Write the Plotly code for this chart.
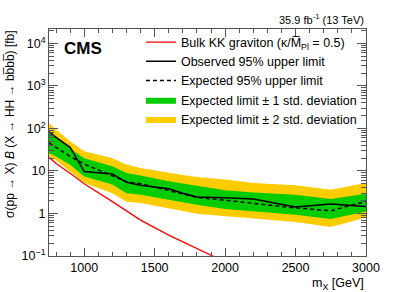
import plotly.graph_objects as go

# ---- data ----
mass = [750, 800, 900, 1000, 1200, 1300, 1400, 1600, 1700, 1800, 2000, 2200, 2500, 2750, 3000]
observed = [85, 62, 36, 9.7, 8.5, 5.4, 4.6, 3.8, 3.0, 2.45, 2.35, 2.2, 1.42, 1.67, 1.47]
expected = [46, 36, 22, 14.5, 7.9, 5.6, 5.0, 3.5, 2.9, 2.4, 2.05, 1.75, 1.35, 1.16, 1.92]
minus2 = [22, 18, 9.7, 5.3, 3.0, 1.9, 1.76, 1.34, 1.15, 0.98, 0.85, 0.75, 0.63, 0.48, 0.80]
minus1 = [26, 22, 14, 7.4, 4.8, 3.0, 2.77, 2.1, 1.85, 1.6, 1.27, 1.11, 0.93, 0.74, 1.11]
plus1 = [85, 65, 34, 20, 12.9, 9.0, 7.8, 5.7, 5.1, 4.5, 3.5, 3.1, 2.77, 2.19, 2.9]
plus2 = [134, 93, 50, 29, 20, 14.2, 11.8, 9.0, 8.0, 7.2, 6.3, 5.2, 4.6, 3.6, 5.2]

grav_mass = [750, 800, 900, 1000, 1200, 1400, 1600, 1800, 2000, 2200]
grav_xsec = [21, 15, 8.8, 5.0, 1.9, 0.70, 0.31, 0.15, 0.07, 0.035]

ytick_vals = [0.1, 1, 10, 100, 1000, 10000]
ytick_text = ["10<sup>\u22121</sup>", "1", "10", "10<sup>2</sup>", "10<sup>3</sup>", "10<sup>4</sup>"]
xtick_vals = [1000, 1500, 2000, 2500, 3000]

FONT = "Liberation Sans, Arial, Helvetica, sans-serif"
AX = "#555555"

fig = go.Figure()

# bands (closed polygons)
fig.add_trace(go.Scatter(
    x=mass + mass[::-1], y=plus2 + minus2[::-1], fill="toself",
    fillcolor="#FFCC00", line=dict(width=0), mode="lines",
    name="Expected limit \u00b1 2 std. deviation", legendrank=5, hoverinfo="skip"))
fig.add_trace(go.Scatter(
    x=mass + mass[::-1], y=plus1 + minus1[::-1], fill="toself",
    fillcolor="#00CC00", line=dict(width=0), mode="lines",
    name="Expected limit \u00b1 1 std. deviation", legendrank=4, hoverinfo="skip"))
fig.add_trace(go.Scatter(
    x=mass, y=expected, mode="lines", line=dict(color="black", width=1.5, dash="4px,3px"),
    name="Expected 95% upper limit", legendrank=3))
fig.add_trace(go.Scatter(
    x=mass, y=observed, mode="lines", line=dict(color="black", width=1.5),
    name="Observed 95% upper limit", legendrank=2))
fig.add_trace(go.Scatter(
    x=grav_mass, y=grav_xsec, mode="lines", line=dict(color="#FF0000", width=1.3),
    name="Bulk KK graviton (\u03ba/M\u0305<sub>Pl</sub> = 0.5)", legendrank=1))

fig.update_layout(
    width=407, height=292,
    margin=dict(l=49, r=41, t=29, b=36),
    paper_bgcolor="white", plot_bgcolor="white",
    font=dict(family=FONT, size=12, color="black"),
    showlegend=True,
    legend=dict(x=0.29, y=1.007, xanchor="left", yanchor="top",
                bgcolor="rgba(0,0,0,0)", font=dict(size=12.5, family=FONT),
                itemwidth=30, tracegroupgap=0, traceorder="normal"),
)

fig.update_xaxes(
    range=[750, 3000], showgrid=False, zeroline=False,
    showline=True, linecolor=AX, linewidth=1, mirror="allticks",
    ticks="inside", ticklen=8, tickcolor=AX, tickvals=xtick_vals,
    tickfont=dict(size=12.5, family=FONT),
    minor=dict(ticks="inside", ticklen=4, tickcolor=AX, dtick=100, showgrid=False),
)
fig.update_yaxes(
    type="log", range=[-1, 4.34], showgrid=False, zeroline=False,
    showline=True, linecolor=AX, linewidth=1, mirror="allticks",
    ticks="inside", ticklen=9, tickcolor=AX,
    tickvals=ytick_vals, ticktext=ytick_text,
    tickfont=dict(size=12.5, family=FONT),
    minor=dict(ticks="inside", ticklen=5, tickcolor=AX, dtick="D1", showgrid=False),
)

fig.add_annotation(text="<b>CMS</b>", xref="paper", yref="paper", x=0.04, y=0.965,
                   xanchor="left", yanchor="top", showarrow=False,
                   font=dict(size=17, family=FONT))
fig.add_annotation(text="35.9 fb<sup>-1</sup> (13 TeV)", xref="paper", yref="paper",
                   x=1.0, y=1.005, xanchor="right", yanchor="bottom", showarrow=False,
                   font=dict(size=11, family=FONT))
fig.add_annotation(text="m<sub>X</sub> [GeV]", xref="paper", yref="paper",
                   x=1.0, y=-0.079, xanchor="right", yanchor="top", showarrow=False,
                   font=dict(size=12.5, family=FONT))
fig.add_annotation(text="\u03c3(pp \u2192 X) <i>B</i> (X \u2192 HH \u2192 bb\u0305bb\u0305) [fb]",
                   xref="paper", yref="paper", x=-0.125, y=1.0,
                   xanchor="center", yanchor="top", textangle=-90, showarrow=False,
                   font=dict(size=12, family=FONT))

fig.write_html("out.html", config={"displayModeBar": False},
               post_script="document.body.style.margin='0px';")
